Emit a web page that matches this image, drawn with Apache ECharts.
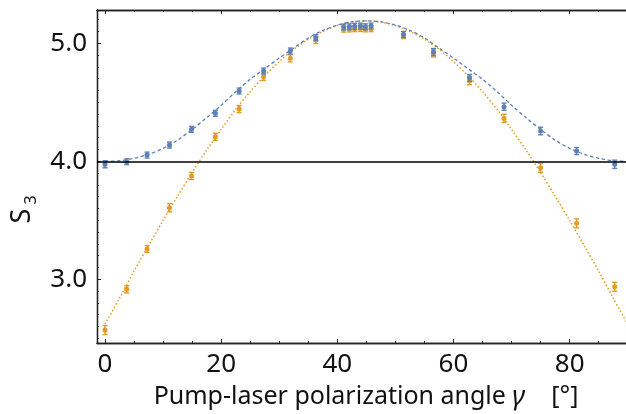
<!DOCTYPE html>
<html>
<head>
<meta charset="utf-8">
<script src="https://cdn.jsdelivr.net/npm/echarts@6/dist/echarts.min.js"></script>
<style>
html,body{margin:0;padding:0;background:#fff;}
#chart{width:626px;height:414px;}
</style>
</head>
<body>
<div id="chart"></div>
<script>
// ---- data ----
const gamma    = [0, 3.74, 7.24, 11.1, 14.9, 19.0, 23.1, 27.3, 31.9, 36.3, 41.1, 42.07, 42.99, 43.97, 44.83, 45.81, 51.4, 56.55, 62.76, 68.7, 75.0, 81.2, 87.76];
const blueS3   = [3.975, 3.997, 4.053, 4.138, 4.271, 4.407, 4.596, 4.765, 4.935, 5.048, 5.138, 5.140, 5.144, 5.146, 5.140, 5.146, 5.075, 4.926, 4.706, 4.463, 4.257, 4.087, 3.975];
const blueErr  = [0.03, 0.025, 0.025, 0.025, 0.025, 0.025, 0.025, 0.025, 0.025, 0.025, 0.025, 0.025, 0.025, 0.025, 0.025, 0.025, 0.025, 0.03, 0.03, 0.03, 0.032, 0.03, 0.035];
const orangeS3 = [2.570, 2.915, 3.257, 3.607, 3.876, 4.208, 4.443, 4.717, 4.873, 5.028, 5.120, 5.122, 5.124, 5.126, 5.122, 5.124, 5.070, 4.915, 4.685, 4.364, 3.945, 3.475, 2.937];
const orangeErr= [0.038, 0.03, 0.03, 0.035, 0.03, 0.03, 0.03, 0.03, 0.03, 0.03, 0.025, 0.025, 0.025, 0.025, 0.025, 0.025, 0.03, 0.03, 0.035, 0.035, 0.038, 0.038, 0.038];

const fitGamma  = [0, 2.5, 5, 7.5, 10, 12.5, 15, 17.5, 20, 22.5, 25, 27.5, 30, 32.5, 35, 37.5, 40, 42.5, 45, 47.5, 50, 52.5, 55, 57.5, 60, 62.5, 65, 67.5, 70, 72.5, 75, 77.5, 80, 82.5, 85, 87.5, 90];
const blueFit   = [4.000, 4.005, 4.025, 4.060, 4.110, 4.180, 4.270, 4.370, 4.475, 4.590, 4.695, 4.785, 4.875, 4.960, 5.045, 5.110, 5.155, 5.182, 5.190, 5.182, 5.155, 5.110, 5.045, 4.960, 4.875, 4.785, 4.695, 4.590, 4.475, 4.370, 4.270, 4.180, 4.110, 4.060, 4.025, 4.005, 4.000];
const orangeFit = [2.620, 2.840, 3.070, 3.285, 3.500, 3.705, 3.905, 4.095, 4.270, 4.440, 4.590, 4.725, 4.845, 4.950, 5.035, 5.100, 5.150, 5.180, 5.190, 5.180, 5.150, 5.100, 5.035, 4.950, 4.845, 4.725, 4.590, 4.440, 4.270, 4.095, 3.905, 3.705, 3.500, 3.285, 3.070, 2.840, 2.620];

const xMajorTicks = [0, 20, 40, 60, 80];
const xMinorTicks = [5, 10, 15, 25, 30, 35, 45, 50, 55, 65, 70, 75, 85];
const yMajorTicks = [3.0, 4.0, 5.0];
const yMinorTicks = [2.5, 2.6, 2.7, 2.8, 2.9, 3.1, 3.2, 3.3, 3.4, 3.5, 3.6, 3.7, 3.8, 3.9, 4.1, 4.2, 4.3, 4.4, 4.5, 4.6, 4.7, 4.8, 4.9, 5.1, 5.2];
const baseline = 4.0;

const xMin = -1.377, xMax = 89.7;
const yMin = 2.4604, yMax = 5.2825;

const BLUE = '#5E81B5';
const ORANGE = '#E19C24';
const FONT = '"Noto Sans", "DejaVu Sans", sans-serif';
const AX = '#222';

function xAxisDef(pos, ticks, len, labels) {
  return {
    type: 'value', min: xMin, max: xMax, position: pos, gridIndex: 0,
    axisLine: {show: true, onZero: false, lineStyle: {color: AX, width: 1.3}},
    axisTick: {show: true, inside: true, length: len, customValues: ticks, lineStyle: {color: AX, width: 1}},
    axisLabel: labels ? {show: true, customValues: ticks, fontSize: 26, color: '#111', fontFamily: FONT, margin: 9,
      formatter: v => String(Math.round(v))} : {show: false},
    splitLine: {show: false}
  };
}
function yAxisDef(ticks, len, labels) {
  return {
    type: 'value', min: yMin, max: yMax, position: 'left', gridIndex: 0,
    axisLine: {show: true, onZero: false, lineStyle: {color: AX, width: 1.3}},
    axisTick: {show: true, inside: true, length: len, customValues: ticks, lineStyle: {color: AX, width: 1}},
    axisLabel: labels ? {show: true, customValues: ticks, fontSize: 26, color: '#111', fontFamily: FONT, margin: 10,
      formatter: v => v.toFixed(1)} : {show: false},
    splitLine: {show: false}
  };
}

function errRender(color) {
  return function (params, api) {
    const x = api.value(0), y = api.value(1), e = api.value(2);
    const p = api.coord([x, y]);
    const t = api.coord([x, y + e]);
    const b = api.coord([x, y - e]);
    const st = {stroke: color, lineWidth: 1.4};
    return {
      type: 'group',
      children: [
        {type: 'line', shape: {x1: p[0], y1: t[1], x2: p[0], y2: b[1]}, style: st},
        {type: 'line', shape: {x1: p[0] - 2.5, y1: t[1], x2: p[0] + 2.5, y2: t[1]}, style: st},
        {type: 'line', shape: {x1: p[0] - 2.5, y1: b[1], x2: p[0] + 2.5, y2: b[1]}, style: st},
        {type: 'circle', shape: {cx: p[0], cy: p[1], r: 2.5}, style: {fill: color}}
      ]
    };
  };
}

const chart = echarts.init(document.getElementById('chart'), null, {renderer: 'canvas'});
chart.setOption({
  animation: false,
  backgroundColor: '#fff',
  grid: {left: 97, top: 10, width: 529, height: 333, containLabel: false},
  xAxis: [
    xAxisDef('bottom', xMajorTicks, 4, true),
    xAxisDef('bottom', xMinorTicks, 2, false),
    xAxisDef('top', xMajorTicks, 4, false),
    xAxisDef('top', xMinorTicks, 2, false)
  ],
  yAxis: [
    yAxisDef(yMajorTicks, 4, true),
    yAxisDef(yMinorTicks, 2, false)
  ],
  series: [
    {
      type: 'line', xAxisIndex: 0, yAxisIndex: 0, z: 2,
      data: fitGamma.map((g, i) => [g, orangeFit[i]]),
      smooth: 0.3, showSymbol: false, clip: true,
      lineStyle: {color: ORANGE, width: 1.5, type: [1.5, 2.2]},
      markLine: {
        symbol: 'none', silent: true, label: {show: false},
        lineStyle: {color: '#000', width: 1.5, type: 'solid'},
        data: [{yAxis: baseline}]
      }
    },
    {
      type: 'line', xAxisIndex: 0, yAxisIndex: 0, z: 2,
      data: fitGamma.map((g, i) => [g, blueFit[i]]),
      smooth: 0.3, showSymbol: false, clip: true,
      lineStyle: {color: BLUE, width: 1.3, type: [3.5, 2.5]}
    },
    {
      type: 'custom', xAxisIndex: 0, yAxisIndex: 0, z: 3, clip: true,
      renderItem: errRender(ORANGE),
      data: gamma.map((g, i) => [g, orangeS3[i], orangeErr[i]])
    },
    {
      type: 'custom', xAxisIndex: 0, yAxisIndex: 0, z: 4, clip: true,
      renderItem: errRender(BLUE),
      data: gamma.map((g, i) => [g, blueS3[i], blueErr[i]])
    }
  ],
  graphic: [
    {type: 'text', x: 22, y: 216, rotation: Math.PI / 2,
      style: {text: 'S', fontSize: 27, fontFamily: FONT, fill: '#111', align: 'center', verticalAlign: 'middle'}, silent: true},
    {type: 'text', x: 31, y: 200, rotation: Math.PI / 2,
      style: {text: '3', fontSize: 16, fontFamily: FONT, fill: '#111', align: 'center', verticalAlign: 'middle'}, silent: true},
    {type: 'text', x: 366, y: 397,
      style: {
        text: '{n|Pump-laser polarization angle }{g|γ}{n|    [°]}',
        align: 'center', verticalAlign: 'middle',
        rich: {
          n: {fontSize: 25, fontFamily: FONT, fill: '#111'},
          g: {fontSize: 27, fontFamily: FONT, fontStyle: 'italic', fill: '#111'}
        }
      }, silent: true}
  ]
});
</script>
</body>
</html>
